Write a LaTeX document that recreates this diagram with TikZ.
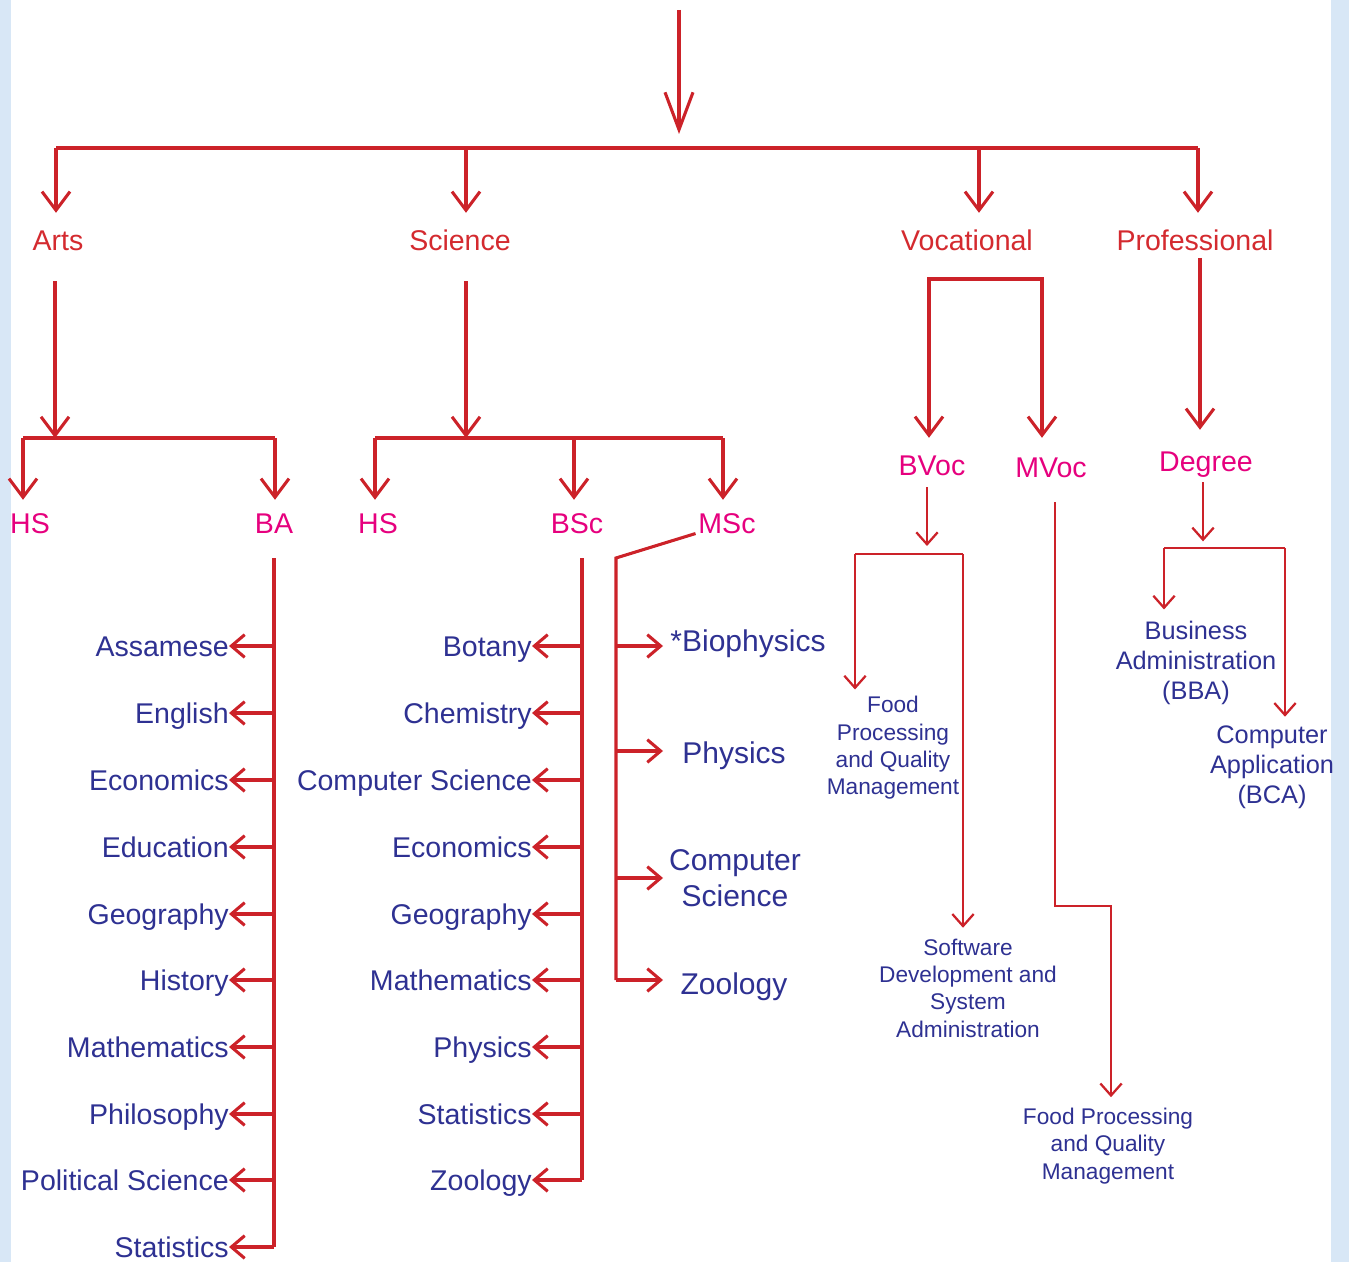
\documentclass[tikz,border=0pt]{standalone}
\usepackage{fontspec}
\setmainfont{Liberation Sans}
\usetikzlibrary{arrows.meta}
\definecolor{lred}{HTML}{CC2229}
\definecolor{tred}{HTML}{D42A2F}
\definecolor{pnk}{HTML}{E6007E}
\definecolor{blu}{HTML}{2E3192}
\definecolor{side}{HTML}{D8E7F6}
\tikzset{
  ln/.style={draw=lred, line width=2.3pt},
  tln/.style={draw=lred, line width=1.7pt},
  toparr/.style={ln, -{Straight Barb[length=28pt,width=21pt]}},
  dn/.style={ln, -{Straight Barb[length=14pt,width=21pt]}},
  la/.style={ln, -{Straight Barb[length=10pt,width=17pt]}},
  sdn/.style={tln, -{Straight Barb[length=9pt,width=16pt]}},
  bigf/.style={font=\fontsize{21.4}{26}\selectfont},
  lab/.style={bigf, inner sep=0pt, text height=15.4pt, text depth=0pt},
  cat/.style={lab, text=tred},
  deg/.style={lab, text=pnk},
  item/.style={lab, text=blu},
  mitem/.style={font=\fontsize{22.5}{27}\selectfont, text=blu, inner sep=0pt, align=center},
  vitem/.style={font=\fontsize{17}{20.5}\selectfont, text=blu, inner sep=0pt, align=center},
  pitem/.style={font=\fontsize{19}{22.5}\selectfont, text=blu, inner sep=0pt, align=center},
}
\begin{document}
\begin{tikzpicture}[x=0.75pt,y=-0.75pt]
\useasboundingbox (0,0) rectangle (1349,1262);
\fill[white] (0,0) rectangle (1349,1262);
\fill[side] (0,0) rectangle (11,1262);
\fill[side] (1331,0) rectangle (1349,1262);

% ---------- top level ----------
\coordinate (top) at (679,10);
\coordinate (topT) at (679,134);
\draw[toparr] (top) -- (topT);

\node[cat] (Arts) at (58,240) {Arts};
\node[cat] (Science) at (460,240) {Science};
\node[cat] (Vocational) at (967,240) {Vocational};
\node[cat] (Professional) at (1195,240) {Professional};

\coordinate (b0L) at (56,148);
\coordinate (b0S) at (466,148);
\coordinate (b0V) at (979,148);
\coordinate (b0R) at (1198,148);
\draw[ln] (b0L) -- (b0R);
\draw[dn, shorten >=12.5pt] (b0L) -- (b0L |- Arts.north);
\draw[dn, shorten >=12.5pt] (b0S) -- (b0S |- Science.north);
\draw[dn, shorten >=12.5pt] (b0V) -- (b0V |- Vocational.north);
\draw[dn, shorten >=12.5pt] (b0R) -- (b0R |- Professional.north);

% ---------- Arts ----------
\node[deg] (HSa) at (30,523) {HS};
\node[deg] (BA) at (274,523) {BA};
\coordinate (aJ) at (55,438);
\coordinate (aL) at (23,438);
\coordinate (aR) at (275,438);
\draw[dn, shorten <=23pt] (Arts.south -| aJ) -- (aJ);
\draw[ln] (aL) -- (aR);
\draw[dn, shorten >=9.5pt] (aL) -- (aL |- HSa.north);
\draw[dn, shorten >=9.5pt] (aR) -- (aR |- BA.north);

\coordinate (baE) at (274,1247);
\draw[ln, shorten <=18.5pt] (BA.south -| baE) -- (baE);
\foreach \n/\t/\y in {ba1/Assamese/646, ba2/English/713, ba3/Economics/780,
  ba4/Education/847, ba5/Geography/914, ba6/History/980, ba7/Mathematics/1047,
  ba8/Philosophy/1114, ba9/Political Science/1180, ba10/Statistics/1247}{
  \node[item, anchor=east] (\n) at (229,\y) {\t};
  \draw[la] (\n.east -| baE) -- (\n.east);
}

% ---------- Science ----------
\node[deg] (HSs) at (378,523) {HS};
\node[deg] (BSc) at (577,523) {BSc};
\node[deg] (MSc) at (727,523) {MSc};
\coordinate (sJ) at (466,438);
\coordinate (sL) at (375,438);
\coordinate (sM) at (574,438);
\coordinate (sR) at (723,438);
\draw[dn, shorten <=23pt] (Science.south -| sJ) -- (sJ);
\draw[ln] (sL) -- (sR);
\draw[dn, shorten >=9.5pt] (sL) -- (sL |- HSs.north);
\draw[dn, shorten >=9.5pt] (sM) -- (sM |- BSc.north);
\draw[dn, shorten >=9.5pt] (sR) -- (sR |- MSc.north);

\coordinate (bsE) at (582,1180);
\draw[ln, shorten <=18.5pt] (BSc.south -| bsE) -- (bsE);
\foreach \n/\t/\y in {bs1/Botany/646, bs2/Chemistry/713, bs3/Computer Science/780,
  bs4/Economics/847, bs5/Geography/914, bs6/Mathematics/980, bs7/Physics/1047,
  bs8/Statistics/1114, bs9/Zoology/1180}{
  \node[item, anchor=east] (\n) at (532,\y) {\t};
  \draw[la] (\n.east -| bsE) -- (\n.east);
}

\coordinate (msK) at (616,558);
\coordinate (msE) at (616,980);
\draw[ln] ([xshift=-2pt]MSc.south west) -- (msK) -- (msE);
\node[mitem] (m1) at (748,644) {*Biophysics};
\node[mitem] (m2) at (734,756) {Physics};
\node[mitem] (m3) at (735,878) {Computer\\Science};
\node[mitem] (m4) at (734,987) {Zoology};
\coordinate (mt1) at (663,646);
\coordinate (mt2) at (663,751);
\coordinate (mt3) at (663,878);
\coordinate (mt4) at (663,980);
\foreach \c in {mt1,mt2,mt3,mt4}{
  \draw[la] (msK |- \c) -- (\c);
}

% ---------- Vocational ----------
\node[deg] (BVoc) at (932,465) {BVoc};
\node[deg] (MVoc) at (1051,467) {MVoc};
\coordinate (vL) at (929,279);
\coordinate (vR) at (1042,279);
\draw[ln, {Straight Barb[length=14pt,width=21pt]}-{Straight Barb[length=14pt,width=21pt]},
  shorten <=12.5pt, shorten >=14pt] (vL |- BVoc.north) -- (vL) -- (vR) -- (vR |- MVoc.north);

\node[vitem] (f1) at (893,748) {Food\\Processing\\and Quality\\Management};
\node[vitem] (sw) at (968,988) {Software\\Development and\\System\\Administration};
\coordinate (bvJ) at (927,554);
\coordinate (bvL) at (855,554);
\coordinate (bvR) at (963,554);
\draw[sdn, shorten <=8.8pt, shorten >=6pt] (BVoc.south -| bvJ) -- (bvJ);
\draw[tln] (bvL) -- (bvR);
\draw[sdn, shorten >=5pt] (bvL) -- (bvL |- f1.north);
\draw[sdn, shorten >=8pt] (bvR) -- (bvR |- sw.north);

\node[vitem] (f2) at (1108,1146) {Food Processing\\and Quality\\Management};
\coordinate (mvK) at (1055,906);
\coordinate (mvK2) at (1111,906);
\draw[sdn, shorten <=18.5pt, shorten >=8pt] (MVoc.south -| mvK) -- (mvK) -- (mvK2) -- (mvK2 |- f2.north);

% ---------- Professional ----------
\node[deg] (Degree) at (1206,461) {Degree};
\coordinate (pX) at (1200,258);
\draw[dn, shorten >=15.5pt] (pX) -- (pX |- Degree.north);

\node[pitem] (bba) at (1196,663) {Business\\Administration\\(BBA)};
\node[pitem] (bca) at (1272,767) {Computer\\Application\\(BCA)};
\coordinate (dJ) at (1203,548);
\coordinate (dL) at (1164,548);
\coordinate (dR) at (1285,548);
\draw[sdn, shorten <=8pt, shorten >=5pt] (Degree.south -| dJ) -- (dJ);
\draw[tln] (dL) -- (dR);
\draw[sdn, shorten >=8.6pt] (dL) -- (dL |- bba.north);
\draw[sdn, shorten >=6.4pt] (dR) -- (dR |- bca.north);
\end{tikzpicture}
\end{document}
